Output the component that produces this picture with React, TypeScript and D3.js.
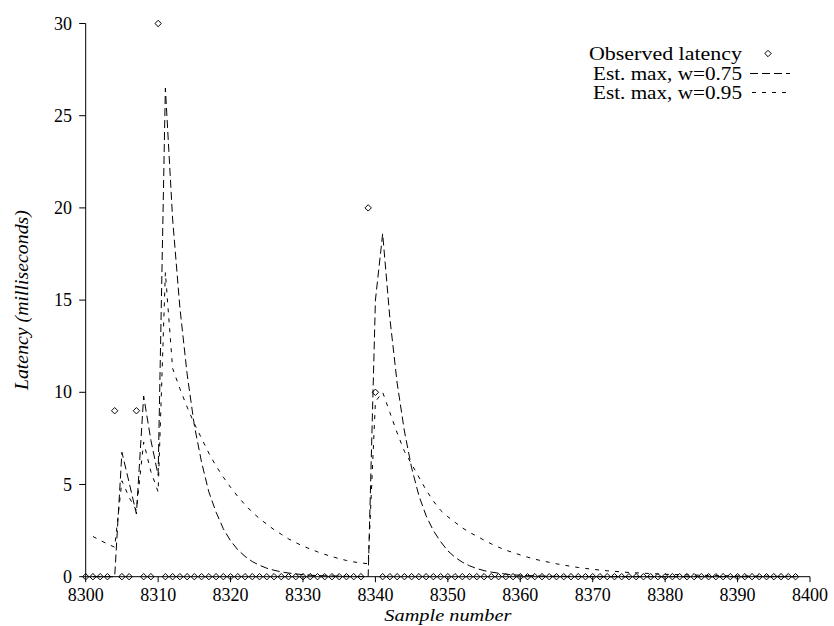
import React from 'react';
import * as d3 from 'd3';

const FIRST_SAMPLE = 8300;
const EST_FIRST_SAMPLE = 8301;

// Observed latency for samples 8300..8398
const observed: number[] = [
  0, 0, 0, 0, 9, 0, 0, 9, 0, 0,
  30, 0, 0, 0, 0, 0, 0, 0, 0, 0,
  0, 0, 0, 0, 0, 0, 0, 0, 0, 0,
  0, 0, 0, 0, 0, 0, 0, 0, 0, 20,
  10, 0, 0, 0, 0, 0, 0, 0, 0, 0,
  0, 0, 0, 0, 0, 0, 0, 0, 0, 0,
  0, 0, 0, 0, 0, 0, 0, 0, 0, 0,
  0, 0, 0, 0, 0, 0, 0, 0, 0, 0,
  0, 0, 0, 0, 0, 0, 0, 0, 0, 0,
  0, 0, 0, 0, 0, 0, 0, 0, 0,
];

// Est. max, w=0.75 for samples 8301..8398
const est075: number[] = [
  0, 0, 0, 0,
  6.75, 5.1, 3.4, 9.8, 7.4, 5.5,
  26.5, 19.4, 14.6, 11.0, 8.2, 6.2, 4.6, 3.5, 2.6, 1.95,
  1.46, 1.1, 0.82, 0.62, 0.46, 0.35, 0.26, 0.2, 0.15, 0.11,
  0.08, 0.06, 0.05, 0.04, 0.03, 0.02, 0.01, 0.01, 0.01, 15.0,
  18.6, 14.0, 10.5, 7.9, 5.9, 4.4, 3.3, 2.5, 1.9, 1.4,
  1.05, 0.79, 0.59, 0.44, 0.33, 0.25, 0.19, 0.14, 0.1, 0.08,
  0.06, 0.05, 0.03, 0.03, 0.02, 0.02, 0.01, 0.01, 0.01, 0.01,
  0, 0, 0, 0, 0, 0, 0, 0, 0, 0,
  0, 0, 0, 0, 0, 0, 0, 0, 0, 0,
  0, 0, 0, 0, 0, 0, 0, 0,
];

// Est. max, w=0.95 for samples 8301..8398
const est095: number[] = [
  2.18, 1.97, 1.78, 1.6,
  5.2, 4.3, 3.6, 7.3, 5.7, 4.6,
  16.5, 11.3, 10.2, 9.2, 8.3, 7.5, 6.7, 6.0, 5.4, 4.85,
  4.35, 3.9, 3.5, 3.15, 2.85, 2.55, 2.3, 2.05, 1.85, 1.66,
  1.5, 1.35, 1.21, 1.09, 0.98, 0.88, 0.8, 0.75, 0.7, 9.5,
  10.0, 8.9, 7.8, 6.8, 6.1, 5.4, 4.7, 4.1, 3.6, 3.25,
  2.95, 2.65, 2.4, 2.2, 1.98, 1.78, 1.6, 1.44, 1.31, 1.18,
  1.06, 0.95, 0.86, 0.78, 0.7, 0.63, 0.56, 0.5, 0.45, 0.4,
  0.36, 0.32, 0.29, 0.26, 0.23, 0.21, 0.19, 0.17, 0.15, 0.13,
  0.12, 0.11, 0.1, 0.09, 0.08, 0.07, 0.06, 0.05, 0.05, 0.04,
  0.04, 0.03, 0.03, 0.03, 0.02, 0.02, 0.02, 0.02,
];

const xTicks = [8300, 8310, 8320, 8330, 8340, 8350, 8360, 8370, 8380, 8390, 8400];
const yTicks = [0, 5, 10, 15, 20, 25, 30];
const legendLabels = ['Observed latency', 'Est. max, w=0.75', 'Est. max, w=0.95'];

const W = 834;
const H = 626;
const FONT = "'Liberation Serif', 'Times New Roman', serif";

const x = d3.scaleLinear().domain([8300, 8400]).range([85.7, 810]);
const y = d3.scaleLinear().domain([0, 30]).range([576.7, 23.5]);

const diamond = (cx: number, cy: number, r = 3.2) =>
  `M${cx},${cy - r}L${cx + r},${cy}L${cx},${cy + r}L${cx - r},${cy}Z`;

export default function App() {
  const line = d3
    .line<number>()
    .x((_, i) => x(EST_FIRST_SAMPLE + i))
    .y((d) => y(d));

  const legendRows = [60, 79.5, 98.5];

  return (
    <svg
      width={W}
      height={H}
      style={{ position: 'absolute', left: 0, top: 0, background: '#fff' }}
      fontFamily={FONT}
    >
      <rect width={W} height={H} fill="#fff" />
      {/* axes */}
      <line x1={x(8300)} x2={x(8300)} y1={y(30)} y2={y(0)} stroke="#000" strokeWidth={1} />
      <line x1={x(8300)} x2={x(8400)} y1={y(0)} y2={y(0)} stroke="#000" strokeWidth={1} />
      {yTicks.map((t) => (
        <g key={'y' + t}>
          <line x1={x(8300) - 6.5} x2={x(8300)} y1={y(t)} y2={y(t)} stroke="#000" />
          <text x={72} y={y(t) + 6} fontSize={18} textAnchor="end">
            {t}
          </text>
        </g>
      ))}
      {xTicks.map((t) => (
        <g key={'x' + t}>
          <line x1={x(t)} x2={x(t)} y1={y(0)} y2={y(0) + 5.5} stroke="#000" />
          <text x={x(t)} y={601} fontSize={18} textAnchor="middle">
            {t}
          </text>
        </g>
      ))}
      <text
        x={x(8350)}
        y={621}
        fontSize={17}
        fontStyle="italic"
        textAnchor="middle"
        textLength={127}
        lengthAdjust="spacingAndGlyphs"
      >
        Sample number
      </text>
      <text
        transform={`translate(28,${(y(0) + y(30)) / 2}) rotate(-90)`}
        fontSize={18}
        fontStyle="italic"
        textAnchor="middle"
        textLength={180}
        lengthAdjust="spacingAndGlyphs"
      >
        Latency (milliseconds)
      </text>

      {/* estimator lines */}
      <path d={line(est075) || ''} fill="none" stroke="#000" strokeWidth={1} strokeDasharray="8,4" />
      <path d={line(est095) || ''} fill="none" stroke="#000" strokeWidth={1} strokeDasharray="4,6" />

      {/* observed points */}
      {observed.map((v, i) => (
        <path
          key={'o' + i}
          d={diamond(x(FIRST_SAMPLE + i), y(v))}
          fill="none"
          stroke="#000"
          strokeWidth={1}
        />
      ))}

      {/* legend */}
      {legendLabels.map((lab, i) => (
        <text
          key={'l' + i}
          x={742}
          y={legendRows[i]}
          fontSize={18}
          textAnchor="end"
          textLength={i === 0 ? 153 : 149}
          lengthAdjust="spacingAndGlyphs"
        >
          {lab}
        </text>
      ))}
      <path d={diamond(768, legendRows[0] - 6.5)} fill="none" stroke="#000" />
      <line x1={750} x2={790} y1={legendRows[1] - 6} y2={legendRows[1] - 6} stroke="#000" strokeDasharray="8,4" />
      <line x1={752} x2={790} y1={legendRows[2] - 6} y2={legendRows[2] - 6} stroke="#000" strokeDasharray="4,6" />
    </svg>
  );
}
